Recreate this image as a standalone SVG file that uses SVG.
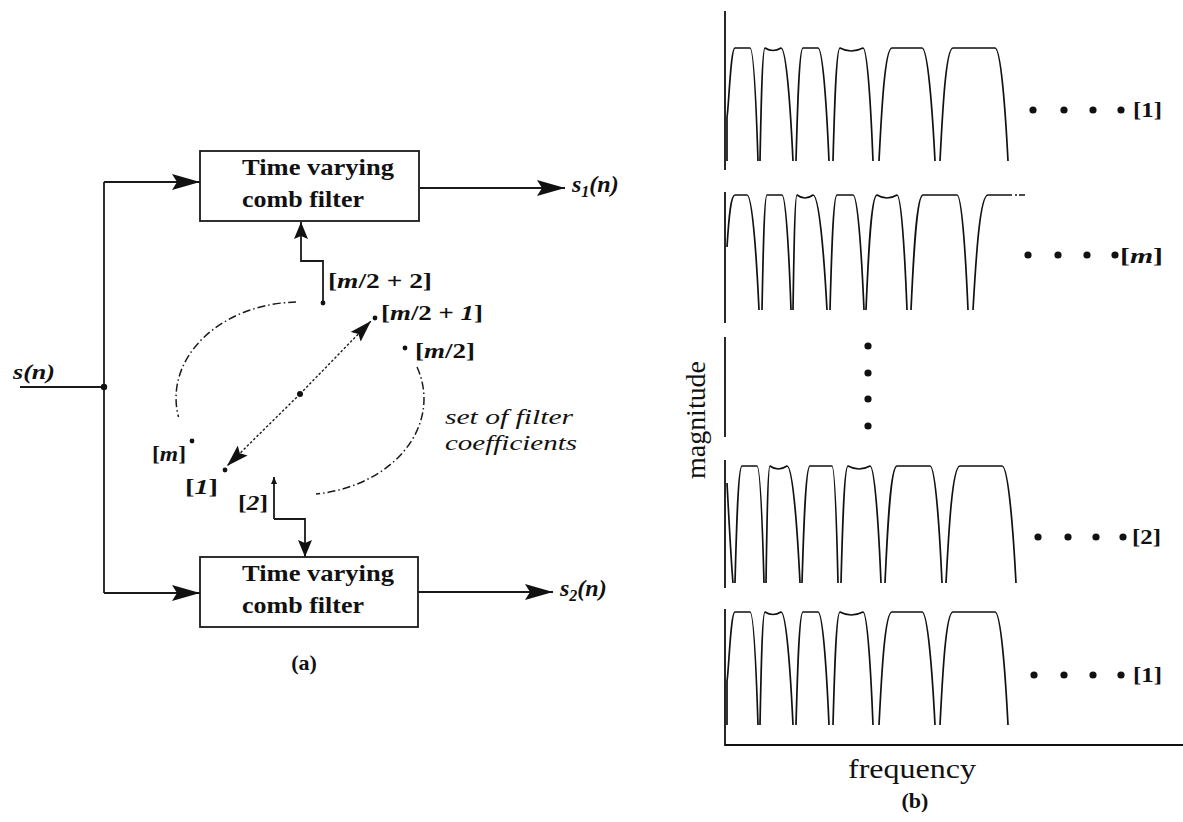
<svg xmlns="http://www.w3.org/2000/svg" width="1183" height="822" viewBox="0 0 1183 822">
<style>
.ln{fill:none;stroke:#1a1a1a;stroke-width:1.8}
.box{fill:#fff;stroke:#1a1a1a;stroke-width:1.8}
.dd{fill:none;stroke:#1a1a1a;stroke-width:1.5;stroke-dasharray:8 3 1.5 3}
.dot{fill:none;stroke:#1a1a1a;stroke-width:1.4;stroke-dasharray:2.5 2}
.cv{fill:none;stroke:#111;stroke-width:1.7;stroke-linejoin:round}
.ax{fill:none;stroke:#111;stroke-width:1.8}
.bt{font-family:"Liberation Serif","Times New Roman",serif;font-weight:bold;font-size:24px;fill:#111}
.lb{font-family:"Liberation Serif","Times New Roman",serif;font-weight:bold;font-size:22px;fill:#111}
.it{font-style:italic}
.sl{font-family:"Liberation Serif","Times New Roman",serif;font-style:italic;font-weight:bold;font-size:24px;fill:#111}
.cf{font-family:"Liberation Serif","Times New Roman",serif;font-style:italic;font-size:22px;fill:#111}
.rg{font-family:"Liberation Serif","Times New Roman",serif;font-size:27px;fill:#111}
.pt{fill:#111}
</style>
<defs>
<marker id="ah" markerUnits="userSpaceOnUse" markerWidth="30" markerHeight="16" refX="28" refY="8" orient="auto"><path d="M0,0 L28,8 L0,16 L5,8 z" fill="#111"/></marker>
<marker id="au" markerUnits="userSpaceOnUse" markerWidth="18" markerHeight="14" refX="17" refY="7" orient="auto"><path d="M0,0 L17,7 L0,14 L3,7 z" fill="#111"/></marker>
<marker id="ad" markerUnits="userSpaceOnUse" markerWidth="24" markerHeight="14" refX="22" refY="7" orient="auto"><path d="M0,0 L22,7 L0,14 L4,7 z" fill="#111"/></marker>
<marker id="at" markerUnits="userSpaceOnUse" markerWidth="8" markerHeight="6" refX="7" refY="3" orient="auto"><path d="M0,0 L7,3 L0,6 z" fill="#111"/></marker>
</defs>

<g id="filter-top">
<rect class="box" x="200" y="151" width="219" height="70"/>
<text class="bt" x="242" y="175" textLength="152" lengthAdjust="spacingAndGlyphs">Time varying</text>
<text class="bt" x="242" y="207" textLength="122" lengthAdjust="spacingAndGlyphs">comb filter</text>
</g>
<g id="filter-bottom">
<rect class="box" x="200" y="557" width="218" height="70"/>
<text class="bt" x="242" y="581" textLength="152" lengthAdjust="spacingAndGlyphs">Time varying</text>
<text class="bt" x="242" y="613" textLength="122" lengthAdjust="spacingAndGlyphs">comb filter</text>
</g>

<g id="connectors">
<path class="ln" d="M20,387 H104"/>
<path class="ln" d="M104,182 V593"/>
<path class="ln" d="M104,182 H200" marker-end="url(#ah)"/>
<path class="ln" d="M104,593 H200" marker-end="url(#ah)"/>
<path class="ln" d="M420,188 H565" marker-end="url(#ah)"/>
<path class="ln" d="M418,592 H553" marker-end="url(#ah)"/>
<path class="ln" d="M323,303 V261 H301 V222" marker-end="url(#au)"/>
<path class="ln" d="M274,519 V477" marker-end="url(#at)"/>
<path class="ln" d="M274,519 H305 V557" marker-end="url(#au)"/>
<path class="dot" d="M300,394 L371,321" marker-end="url(#ad)"/>
<path class="dot" d="M300,394 L227,466" marker-end="url(#ad)"/>
<path class="dd" d="M296,302 A124,96 0 0 0 178.5,417"/>
<path class="dd" d="M417,367 A124,96 0 0 1 316,494"/>
</g>

<g id="input">
<circle class="pt" cx="104" cy="387" r="3.2"/>
<text class="lb it" x="13" y="379" textLength="42" lengthAdjust="spacingAndGlyphs">s(n)</text>
</g>
<g id="output-1">
<text class="sl" x="572" y="192">s<tspan font-size="16" dy="5">1</tspan><tspan dy="-5">(n)</tspan></text>
</g>
<g id="output-2">
<text class="sl" x="560" y="596">s<tspan font-size="16" dy="5">2</tspan><tspan dy="-5">(n)</tspan></text>
</g>

<g id="coefficients">
<circle class="pt" cx="300" cy="394" r="3"/>
<circle class="pt" cx="323" cy="303" r="2.4"/>
<text class="lb" x="328" y="288" textLength="104" lengthAdjust="spacingAndGlyphs">[<tspan class="it">m</tspan>/2 + 2]</text>
<circle class="pt" cx="375" cy="318" r="2.4"/>
<text class="lb" x="381" y="320" textLength="102" lengthAdjust="spacingAndGlyphs">[<tspan class="it">m</tspan>/2 + <tspan class="it">1</tspan>]</text>
<circle class="pt" cx="405" cy="348" r="2.4"/>
<text class="lb" x="415" y="358" textLength="60" lengthAdjust="spacingAndGlyphs">[<tspan class="it">m</tspan>/2]</text>
<circle class="pt" cx="192" cy="441" r="2.4"/>
<text class="lb" x="152" y="461" textLength="34" lengthAdjust="spacingAndGlyphs">[<tspan class="it">m</tspan>]</text>
<circle class="pt" cx="225" cy="470" r="2.4"/>
<text class="lb" x="185" y="494" textLength="33" lengthAdjust="spacingAndGlyphs">[<tspan class="it">1</tspan>]</text>
<text class="lb" x="238" y="510" textLength="30" lengthAdjust="spacingAndGlyphs">[<tspan class="it">2</tspan>]</text>
<text class="cf" x="445" y="424" textLength="128" lengthAdjust="spacingAndGlyphs">set of filter</text>
<text class="cf" x="445" y="450" textLength="132" lengthAdjust="spacingAndGlyphs">coefficients</text>
</g>

<g id="caption-a">
<text class="lb" x="304" y="670" text-anchor="middle">(a)</text>
</g>

<g id="plot-1">
<path class="ax" d="M725,11 V170"/>
<path id="lobes1" class="cv" d="M727,161 V117 C728.6,110 730.6,48 735,48 L750,48 C753.6,48 756.4,110 758,161
M760,161 C761,110 762.25,48 765,48 Q773,53 781,48 C786.4,48 790.6,110 793,161
M796,161 C797.4,110 799.15,48 803,48 L818,48 C822.95,48 826.8,110 829,161
M833,161 C834.4,110 836.15,48 840,48 Q851,54 863,48 C867.5,48 871,110 873,161
M879,161 C881.6,110 884.85,48 892,48 L922,48 C927.85,48 932.4,110 935,161
M940,161 C942.6,110 945.85,48 953,48 L995,48 C1000.85,48 1005.4,110 1008,161"/>
<circle class="pt" cx="1033" cy="110" r="3.6"/><circle class="pt" cx="1064" cy="110" r="3.6"/><circle class="pt" cx="1093" cy="110" r="3.6"/><circle class="pt" cx="1121" cy="110" r="3.6"/>
<text class="lb" x="1133" y="117" textLength="29" lengthAdjust="spacingAndGlyphs">[1]</text>
</g>

<g id="plot-m">
<path class="ax" d="M725,192 V323"/>
<path class="cv" d="M727,247 C729,215 731,195 735,195 L747,195 C752.4,195 756.6,258 759,310
M762,310 C763,258 764.25,195 767,195 L782,195 C786.05,195 789.2,258 791,310
M793,310 C793.8,258 794.8,195 797,195 Q805,201 813,195 C819.3,195 824.2,258 827,310
M830,310 C831.4,258 833.15,195 837,195 L853,195 C857.95,195 861.8,258 864,310
M866,310 C868.2,258 870.95,195 877,195 Q887,201 897,195 C901.5,195 905,258 907,310
M911,310 C913.4,258 916.4,195 923,195 L957,195 C961.95,195 965.8,258 968,310
M973,310 C976,258 979.75,195 988,195 L1012,195 M1015,195 L1017,195 M1019,195 L1025,195"/>
<circle class="pt" cx="1028" cy="255" r="3.6"/><circle class="pt" cx="1058" cy="255" r="3.6"/><circle class="pt" cx="1087" cy="255" r="3.6"/><circle class="pt" cx="1115" cy="255" r="3.6"/>
<text class="lb" x="1120" y="263" textLength="43" lengthAdjust="spacingAndGlyphs">[<tspan class="it">m</tspan>]</text>
</g>

<g id="plot-gap">
<path class="ax" d="M725,337 V437"/>
<circle class="pt" cx="868" cy="346" r="3.6"/><circle class="pt" cx="868" cy="373" r="3.6"/><circle class="pt" cx="868" cy="399" r="3.6"/><circle class="pt" cx="868" cy="426" r="3.6"/>
</g>

<g id="plot-2">
<path class="ax" d="M725,460 V588"/>
<path class="cv" d="M727,483 C729,520 731,560 733,583
M735,583 C736.4,530 738.15,466 742,466 L757,466 C760.15,466 762.6,530 764,583
M766,583 C766.8,530 767.8,466 770,466 Q778,472 787,466 C792.85,466 797.4,530 800,583
M802,583 C803.6,530 805.6,466 810,466 L832,466 C834.7,466 836.8,530 838,583
M841,583 C842.4,530 844.15,466 848,466 Q859,472 870,466 C874.95,466 878.8,530 881,583
M885,583 C887.4,530 890.4,466 897,466 L930,466 C935.4,466 939.6,530 942,583
M946,583 C948.8,530 952.3,466 960,466 L1002,466 C1008.3,466 1013.2,530 1016,583"/>
<circle class="pt" cx="1038" cy="537" r="3.6"/><circle class="pt" cx="1068" cy="537" r="3.6"/><circle class="pt" cx="1096" cy="537" r="3.6"/><circle class="pt" cx="1123" cy="537" r="3.6"/>
<text class="lb" x="1132" y="544" textLength="29" lengthAdjust="spacingAndGlyphs">[2]</text>
</g>

<g id="plot-1b">
<path class="ax" d="M725,609 V745 H1183"/>
<path class="cv" transform="translate(0,564)" d="M727,161 V117 C728.6,110 730.6,48 735,48 L750,48 C753.6,48 756.4,110 758,161
M760,161 C761,110 762.25,48 765,48 Q773,53 781,48 C786.4,48 790.6,110 793,161
M796,161 C797.4,110 799.15,48 803,48 L818,48 C822.95,48 826.8,110 829,161
M833,161 C834.4,110 836.15,48 840,48 Q851,54 863,48 C867.5,48 871,110 873,161
M879,161 C881.6,110 884.85,48 892,48 L922,48 C927.85,48 932.4,110 935,161
M940,161 C942.6,110 945.85,48 953,48 L995,48 C1000.85,48 1005.4,110 1008,161"/>
<circle class="pt" cx="1034" cy="675" r="3.6"/><circle class="pt" cx="1064" cy="675" r="3.6"/><circle class="pt" cx="1093" cy="675" r="3.6"/><circle class="pt" cx="1121" cy="675" r="3.6"/>
<text class="lb" x="1133" y="682" textLength="29" lengthAdjust="spacingAndGlyphs">[1]</text>
</g>

<g id="axis-labels">
<text class="rg" transform="translate(705,420) rotate(-90)" text-anchor="middle" textLength="118" lengthAdjust="spacingAndGlyphs">magnitude</text>
<text class="rg" x="912" y="778" text-anchor="middle" textLength="128" lengthAdjust="spacingAndGlyphs">frequency</text>
<text class="lb" x="915" y="808" text-anchor="middle">(b)</text>
</g>
</svg>
